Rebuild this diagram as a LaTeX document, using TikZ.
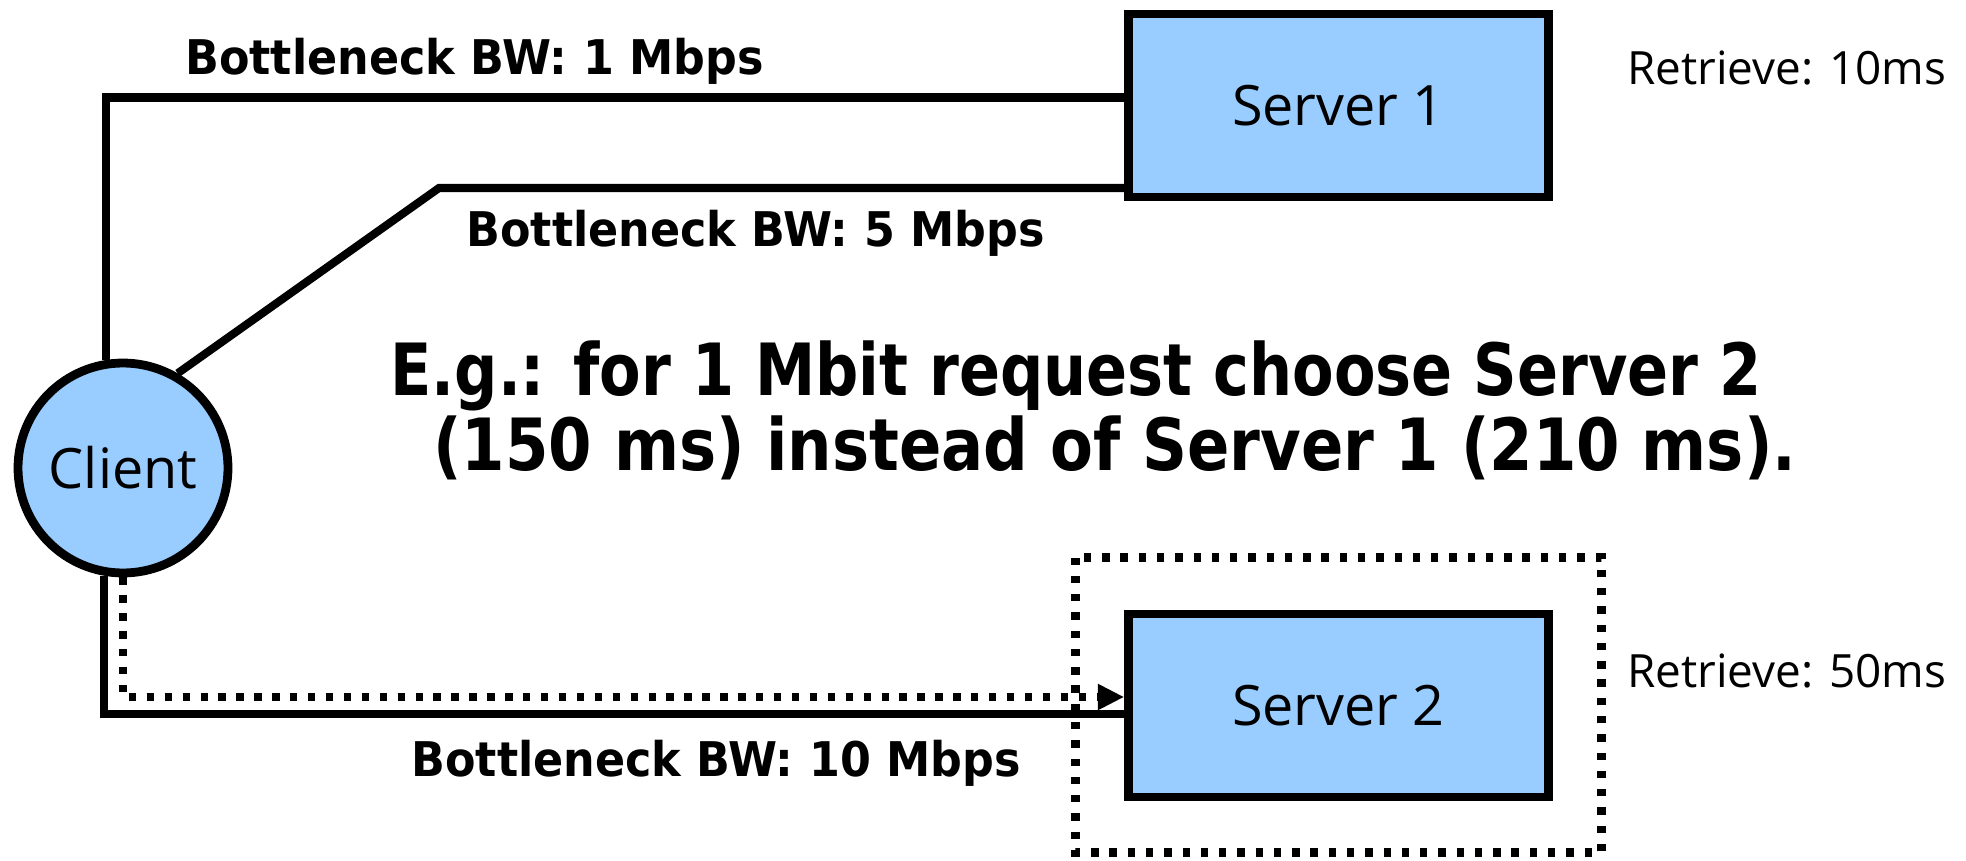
\documentclass[tikz,border=0pt]{standalone}
\usepackage{fontspec}
\usetikzlibrary{arrows.meta}
\newfontfamily\plainfont{Open Sans}
\newfontfamily\bwfont{DejaVu Sans}[FakeStretch=0.93]
\newfontfamily\bigfontA{DejaVu Sans}[FakeStretch=0.84]
\newfontfamily\bigfontB{DejaVu Sans}[FakeStretch=0.867]
\definecolor{boxblue}{RGB}{153,204,255}
\tikzset{
  server/.style={draw, line width=5pt, fill=boxblue, minimum width=8.4cm,
    minimum height=3.66cm, inner sep=0pt, font=\plainfont\fontsize{31.7}{36}\selectfont},
  clientnode/.style={draw, circle, line width=5pt, fill=boxblue, minimum size=4.2cm,
    inner sep=0pt, font=\plainfont\fontsize{31.7}{36}\selectfont},
  link/.style={line width=4.6pt},
  dotlink/.style={line width=4.6pt, dash pattern=on 4.2pt off 6pt},
  dotbox/.style={line width=4.6pt, dash pattern=on 4.2pt off 6.2pt},
  bwlabel/.style={anchor=base west, inner sep=0pt, font=\bwfont\bfseries\fontsize{27.2}{32}\selectfont},
  retr/.style={anchor=base west, inner sep=0pt, font=\plainfont\fontsize{26.1}{30}\selectfont},
  example/.style={anchor=base west, inner sep=0pt},
}
\begin{document}
\begin{tikzpicture}[x=0.02cm, y=-0.02cm]
\useasboundingbox (0,0) rectangle (1966,861);

% hosts
\node[clientnode] (client) at (123,468) {Client};
\node[server] (s1) at (1338.5,105.5) {Server 1};
\node[server] (s2) at (1338.5,705.5) {Server 2};

% bends of the three paths
\coordinate (k1) at (105,97.5);
\coordinate (k2) at (439,188);
\coordinate (k3) at (105,714);
\coordinate (k4) at (123,697);

% paths
\draw[link] (client.99.4) |- (s1.west |- k1);
\draw[link] (client.60) -- (k2) -- (k2 -| s1.west);
\draw[link] (client.260.6) |- (s2.west |- k3);
\draw[dotlink, -{Triangle[length=15pt,width=14pt]}] (client.270) |- (s2.west |- k4);

% highlighted choice
\draw[dotbox] (1075.5,557.5) rectangle (1601.5,852.5);

% link labels
\node[bwlabel] (bw1) at (185,75) {Bottleneck BW: 1 Mbps};
\node[bwlabel] (bw5) at (466,247) {Bottleneck BW: 5 Mbps};
\node[bwlabel] (bw10) at (411,776) {Bottleneck BW: 10 Mbps};

% server retrieval times
\node[retr] (r1) at (1627,85) {Retrieve: 10ms};
\node[retr] (r2) at (1627,687) {Retrieve: 50ms};

% example
\node[example, font=\bigfontA\bfseries\fontsize{41}{46}\selectfont] (ex1) at (390,395) {E.g.: for 1 Mbit request choose Server 2};
\node[example, font=\bigfontB\bfseries\fontsize{41}{46}\selectfont] (ex2) at (433,470) {(150 ms) instead of Server 1 (210 ms).};
\end{tikzpicture}
\end{document}
